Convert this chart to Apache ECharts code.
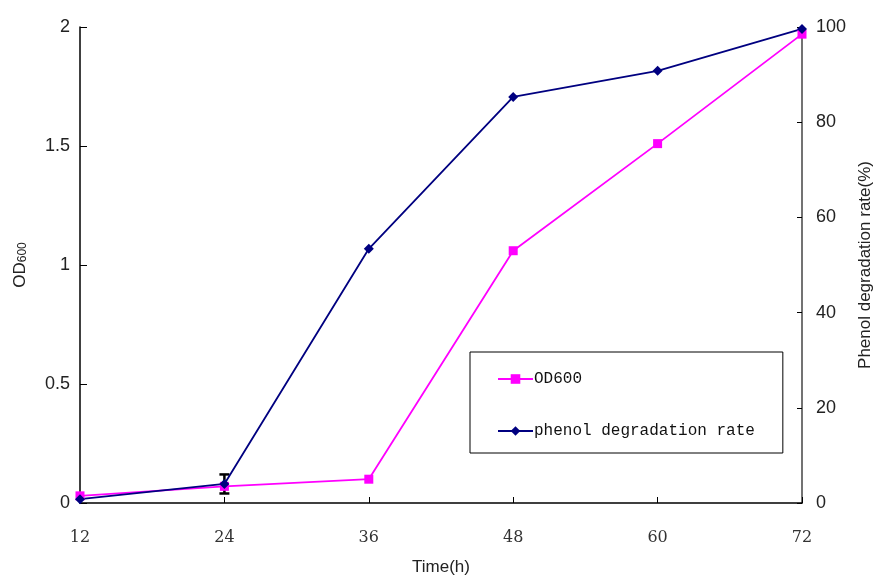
<!DOCTYPE html>
<html>
<head>
<meta charset="utf-8">
<script src="https://cdn.jsdelivr.net/npm/echarts@6/dist/echarts.min.js"></script>
<style>
  html, body { margin: 0; padding: 0; background: #fff; }
  #main { width: 875px; height: 578px; }
</style>
</head>
<body>
<div id="main"></div>
<script>
// 时间点 (h)
var hours = ['12', '24', '36', '48', '60', '72'];
// OD600 (左轴)
var od600 = [0.03, 0.07, 0.10, 1.06, 1.51, 1.97];
// 苯酚降解率 % (右轴)
var phenolRate = [0.8, 4.0, 53.4, 85.3, 90.8, 99.6];
// 误差线 [x索引, 下限, 上限]
var phenolErr = [[1, 2.0, 6.0]];

var chart = echarts.init(document.getElementById('main'));

var option = {
  backgroundColor: '#fff',
  animation: false,
  grid: { left: 80, right: 73, top: 27, bottom: 75, containLabel: false, outerBoundsMode: 'none' },
  legend: {
    orient: 'vertical',
    left: 470,
    top: 352,
    padding: [19, 28, 14, 27],
    itemGap: 36,
    itemWidth: 35,
    itemHeight: 12,
    borderColor: '#000',
    borderWidth: 1,
    textStyle: { fontFamily: 'Liberation Mono', fontSize: 16, color: '#111', padding: [0, 0, 0, -4] },
    data: ['OD600', 'phenol degradation rate']
  },
  xAxis: {
    type: 'category',
    data: hours,
    boundaryGap: false,
    name: 'Time(h)',
    nameLocation: 'middle',
    nameGap: 56,
    nameTextStyle: { fontFamily: 'Liberation Sans', fontSize: 17, color: '#222' },
    axisLine: { lineStyle: { color: '#000', width: 1.5 } },
    axisTick: { inside: true, length: 6, lineStyle: { color: '#000' } },
    axisLabel: { margin: 27, fontFamily: 'DejaVu Serif', fontSize: 16, color: '#333' }
  },
  yAxis: [
    {
      type: 'value',
      min: 0, max: 2, interval: 0.5,
      name: '{a|OD}{b|600}',
      nameLocation: 'middle',
      nameRotate: 90,
      nameGap: 51,
      nameTextStyle: {
        rich: {
          a: { fontFamily: 'Liberation Sans', fontSize: 17, color: '#222' },
          b: { fontFamily: 'Liberation Sans', fontSize: 12, color: '#222', padding: [6, 0, 0, 0] }
        }
      },
      splitLine: { show: false },
      axisLine: { show: true, lineStyle: { color: '#000', width: 1.5 } },
      axisTick: { show: true, inside: true, length: 7, lineStyle: { color: '#000' } },
      axisLabel: { margin: 10, fontFamily: 'Liberation Sans', fontSize: 18, color: '#222' }
    },
    {
      type: 'value',
      position: 'right',
      min: 0, max: 100, interval: 20,
      name: 'Phenol degradation rate(%)',
      nameLocation: 'middle',
      nameRotate: 90,
      nameGap: 55,
      nameTextStyle: { fontFamily: 'Liberation Sans', fontSize: 17, color: '#222' },
      splitLine: { show: false },
      axisLine: { show: true, lineStyle: { color: '#444', width: 1.5 } },
      axisTick: { show: true, inside: true, length: 5, lineStyle: { color: '#000' } },
      axisLabel: { margin: 14, fontFamily: 'Liberation Sans', fontSize: 18, color: '#222' }
    }
  ],
  series: [
    {
      name: 'OD600',
      type: 'line',
      yAxisIndex: 0,
      data: od600,
      symbol: 'rect',
      symbolSize: 9,
      itemStyle: { color: '#ff00ff' },
      lineStyle: { color: '#ff00ff', width: 1.8 }
    },
    {
      name: 'phenol degradation rate',
      type: 'line',
      yAxisIndex: 1,
      data: phenolRate,
      symbol: 'diamond',
      symbolSize: 10,
      itemStyle: { color: '#000080' },
      lineStyle: { color: '#000080', width: 1.8 }
    },
    {
      type: 'custom',
      yAxisIndex: 1,
      silent: true,
      data: phenolErr,
      renderItem: function (params, api) {
        var lo = api.coord([api.value(0), api.value(1)]);
        var hi = api.coord([api.value(0), api.value(2)]);
        var w = 5;
        var st = { stroke: '#000', lineWidth: 2.5 };
        return {
          type: 'group',
          children: [
            { type: 'line', shape: { x1: lo[0], y1: lo[1], x2: hi[0], y2: hi[1] }, style: st },
            { type: 'line', shape: { x1: lo[0] - w, y1: lo[1], x2: lo[0] + w, y2: lo[1] }, style: st },
            { type: 'line', shape: { x1: hi[0] - w, y1: hi[1], x2: hi[0] + w, y2: hi[1] }, style: st }
          ]
        };
      },
      z: 1
    }
  ]
};

chart.setOption(option);
</script>
</body>
</html>
